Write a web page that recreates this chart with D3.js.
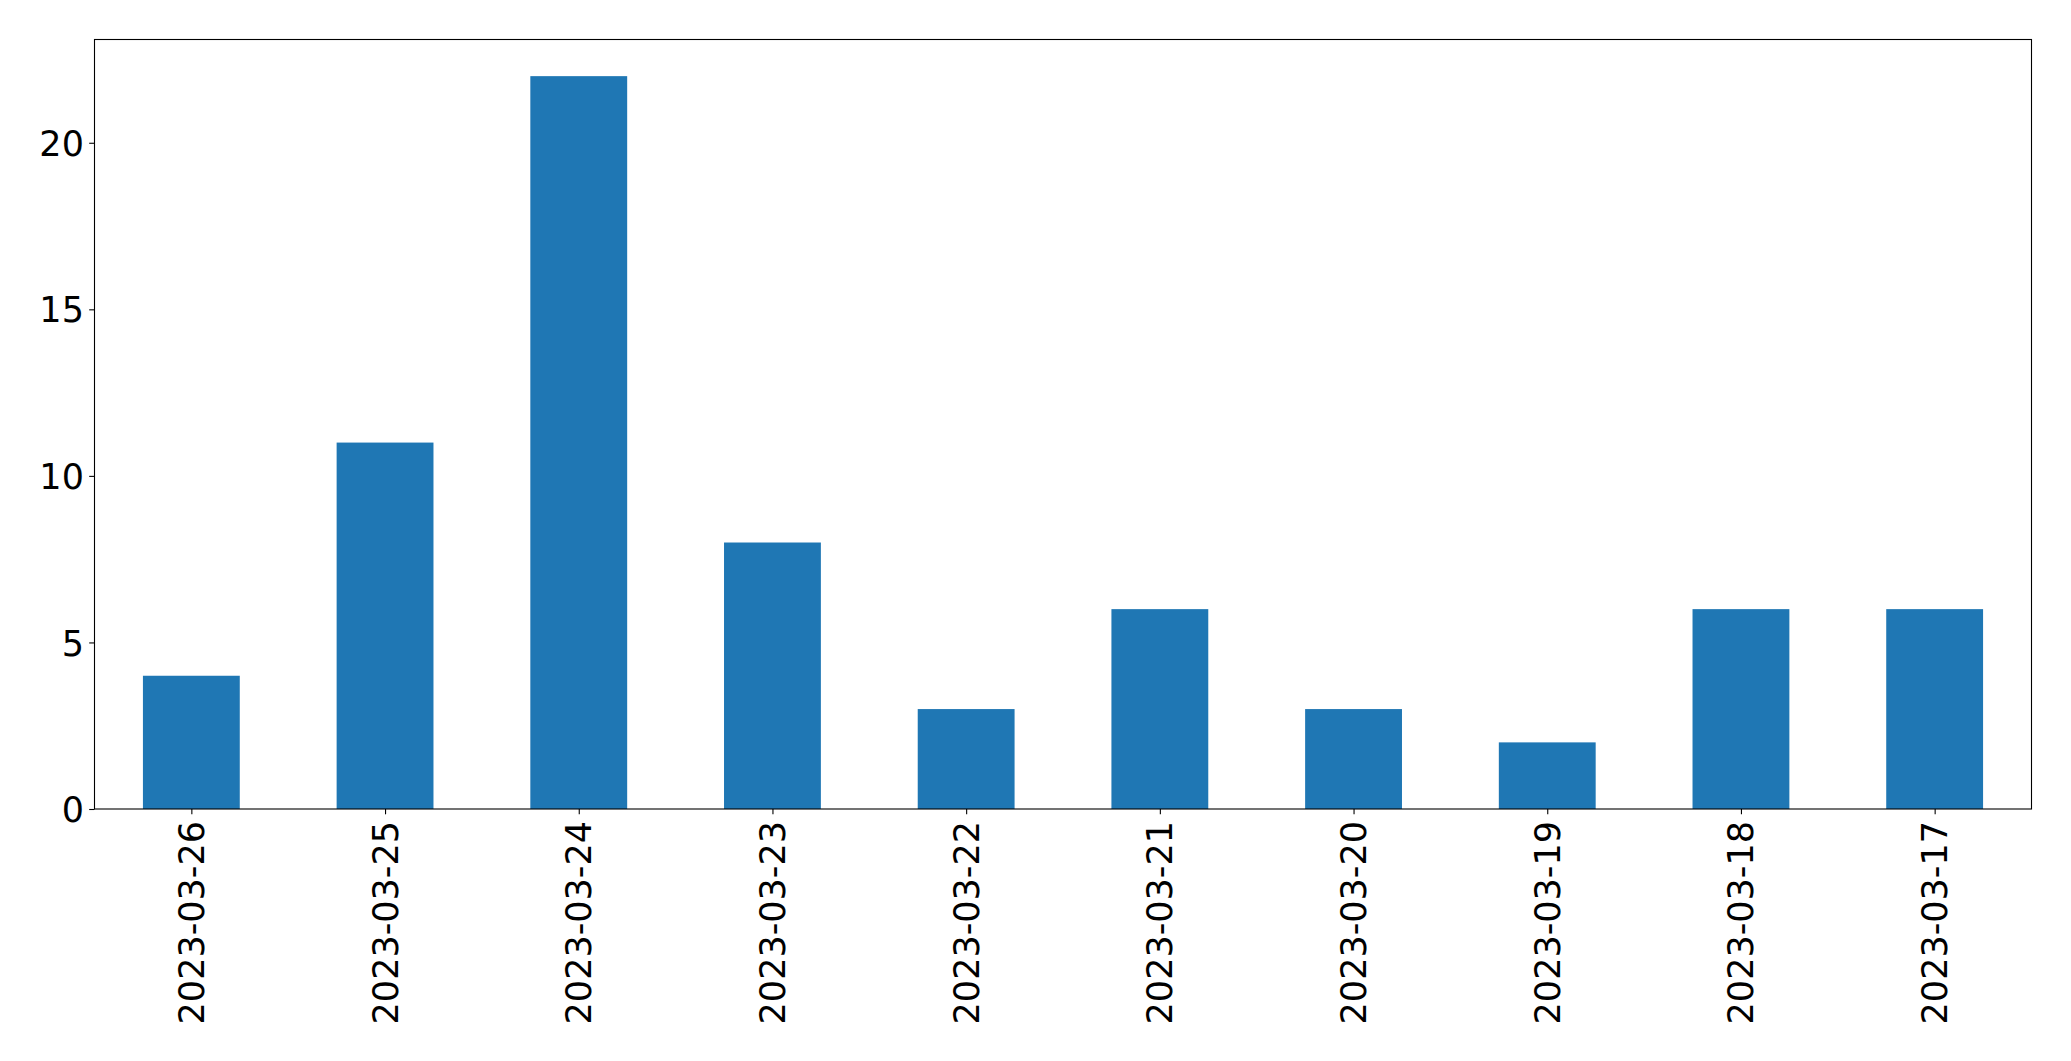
<!DOCTYPE html>
<html>
<head>
<meta charset="utf-8">
<script src="https://cdn.jsdelivr.net/npm/d3@7"></script>
<style>
  body { margin: 0; background: #fff; }
  text { font-family: "DejaVu Sans", sans-serif; fill: #000; }
</style>
</head>
<body>
<div id="chart"></div>
<script>
// data
var dates = ["2023-03-26", "2023-03-25", "2023-03-24", "2023-03-23", "2023-03-22",
             "2023-03-21", "2023-03-20", "2023-03-19", "2023-03-18", "2023-03-17"];
var counts = [4, 11, 22, 8, 3, 6, 3, 2, 6, 6];
var yTicks = [0, 5, 10, 15, 20];

var W = 2071, H = 1061;
var margin = {top: 39.5, right: 39.5, bottom: 252, left: 94.5};
var width = W - margin.left - margin.right,
    height = H - margin.top - margin.bottom;

var svg = d3.select("#chart").append("svg")
    .attr("width", W)
    .attr("height", H);

var g = svg.append("g")
    .attr("transform", "translate(" + margin.left + "," + margin.top + ")");

// index based x like matplotlib bar plot: range -0.5 .. n-0.5
var x = d3.scaleLinear().domain([-0.5, dates.length - 0.5]).range([0, width]);
var y = d3.scaleLinear().domain([0, d3.max(counts) * 1.05]).range([height, 0]);
var step = x(1) - x(0);

g.selectAll("rect.bar")
    .data(counts)
    .enter().append("rect")
    .attr("class", "bar")
    .attr("x", function(d, i) { return x(i) - step * 0.25; })
    .attr("width", step * 0.5)
    .attr("y", function(d) { return y(d); })
    .attr("height", function(d) { return height - y(d); })
    .attr("fill", "#1f77b4");

// y axis
var yAxis = g.append("g")
    .call(d3.axisLeft(y).tickValues(yTicks).tickSize(5.3).tickPadding(5.3).tickFormat(d3.format("d")));
yAxis.select(".domain").remove();
yAxis.selectAll("line").attr("stroke", "#000").attr("stroke-width", 1.1);
yAxis.selectAll("text").style("font-size", "35px").attr("dy", "0.36em");

// x axis
var xAxis = g.append("g")
    .attr("transform", "translate(0," + height + ")")
    .call(d3.axisBottom(x).tickValues(d3.range(dates.length)).tickSize(5.3).tickPadding(0)
      .tickFormat(function(i) { return dates[i]; }));
xAxis.select(".domain").remove();
xAxis.selectAll("line").attr("stroke", "#000").attr("stroke-width", 1.1);
xAxis.selectAll("text")
    .style("font-size", "35px")
    .attr("text-anchor", "end")
    .attr("dy", null)
    .attr("y", 0)
    .attr("dominant-baseline", "central")
    .attr("transform", "translate(0,12) rotate(-90)");

// frame
g.append("rect")
    .attr("width", width)
    .attr("height", height)
    .attr("fill", "none")
    .attr("stroke", "#000")
    .attr("stroke-width", 1.1);
</script>
</body>
</html>
